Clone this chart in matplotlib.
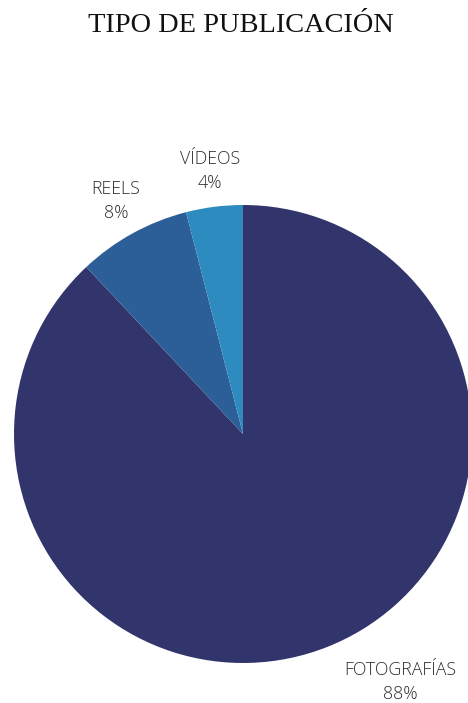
import matplotlib.pyplot as plt

categories = ["FOTOGRAFÍAS", "REELS", "VÍDEOS"]
shares = [88, 8, 4]
colors = ["#31356b", "#2c5f98", "#2e8bbf"]

W, H = 468, 703
fig = plt.figure(figsize=(W / 100, H / 100), dpi=100)
ax = fig.add_axes([0, 0, 1, 1])

# pie in pixel units, y measured from the bottom
cx, cy, r = 243, H - 434, 229
ax.pie(shares, colors=colors, startangle=90, counterclock=False,
       center=(cx, cy), radius=r, frame=True,
       wedgeprops=dict(linewidth=0))
ax.set_xlim(0, W)
ax.set_ylim(0, H)
ax.set_aspect("equal")
ax.axis("off")

ax.text(W / 2 + 7, H - 26, "TIPO DE PUBLICACIÓN", ha="center", va="center",
        family="Liberation Serif", fontsize=20.4, color="#111111")

label_pos = {"FOTOGRAFÍAS": (400, 682), "REELS": (116, 201), "VÍDEOS": (210, 171)}
for name, val in zip(categories, shares):
    x, y = label_pos[name]
    ax.text(x, H - y, f"{name}\n{val}%", ha="center", va="center",
            family="Open Sans", fontweight="light", fontsize=12.8,
            color="#2e2e2e", linespacing=1.45)

fig.savefig("out.png", dpi=100, facecolor="white")
